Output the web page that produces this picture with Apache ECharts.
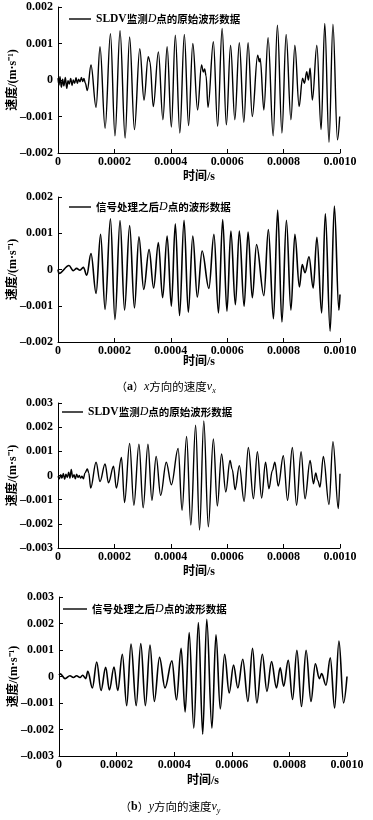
<!DOCTYPE html>
<html><head><meta charset="utf-8">
<script src="https://cdn.jsdelivr.net/npm/echarts@6/dist/echarts.min.js"></script>
<style>html,body{margin:0;padding:0;background:#fff}#c{width:373px;height:820px}</style>
</head><body><div id="c"></div><script>
// time in microseconds, velocity in mm/s (=1e-3 m/s); extrema
const rawX_t = [0,3.5,7,12,16.5,21,26,31,35.5,40,45,50,54,59,64,68.5,73,78,83,87.5,92,97,104,117,135,149,167,186,202,220,238,254,271,290,305,320,326,338,356,372,387,402,416,432,448,463,478,495,509,515,520,525,532,551,566,582,597,612,627,643,659,674,689,708,714,717,730,745,763,778,794,809,826,840,855,867,874,882,888,894,902,918,933,946,961,975,991,999];
const rawX_v = [0.05,-0.14,0.09,-0.2,0.02,-0.16,0.07,-0.23,-0.02,-0.11,0.04,-0.15,0,-0.09,0.06,-0.09,0.02,-0.05,0.07,-0.04,0.04,-0.09,-0.29,0.41,-0.75,0.91,-1.32,1.27,-1.53,1.35,-1.59,1.18,-1.36,0.86,-0.55,0.64,0.5,-0.73,0.77,-1.09,0.91,-1.29,1.23,-1.45,1.25,-1.25,1.0,-0.82,0.41,0.22,0.30,0.12,-0.75,1.05,-1.27,1.41,-1.23,0.95,-1.09,1.02,-1.16,1.02,-1.0,0.68,0.5,0.59,-0.82,1.16,-1.53,1.5,-1.45,1.25,-1.09,0.95,-0.73,0.05,-0.09,0.23,0,0.32,-0.55,0.95,-1.36,1.55,-1.71,1.53,-1.64,-1.0];

const filtX_t = [0,3.5,39,54,66,78,90,102,117,135,151,167,186,202,220,236,254,271,287,304,323,339,356,371,387,402,416,431,447,462,478,494,511,535,553,569,584,599,613,629,643,660,674,689,704,730,746,764,779,794,810,826,840,856,866,876,890,905,918,935,948,965,980,996,1000];
const filtX_v = [0,-0.11,0.11,-0.03,0.03,-0.02,0.06,-0.16,0.44,-0.66,0.97,-1.10,1.40,-1.38,1.35,-1.12,1.21,-1.06,0.90,-0.55,0.55,-0.51,0.74,-0.78,0.92,-1.01,1.26,-1.27,1.36,-1.18,0.92,-0.76,0.51,-0.52,0.97,-1.20,1.38,-1.15,1.06,-0.97,1.06,-1.01,1.03,-0.78,0.69,-0.72,1.10,-1.36,1.64,-1.45,1.36,-1.12,0.97,-0.48,0.14,-0.09,0.35,-0.51,0.89,-1.20,1.54,-1.70,1.75,-1.12,-0.69];

const rawY_t = [0,4.7,9.5,14,19,23.6,28,33,38,42.5,47,52,57,61.5,66,71,75.6,80,85,90,95.7,104,109,116,135,149,167,179,197,207,225,236,254,269,287,302,319,333,348,364,384,402,426,440,456,471,488,502,517,533,551,565,580,595,610,618,628,643,660,675,693,707,722,736,748,760,769,781,799,814,831,846,862,876,894,906,914,921,929,941,961,975,994,1000];
const rawY_v = [-0.03,-0.14,0.03,-0.11,0.08,-0.16,0.05,-0.08,0.14,-0.11,0.25,-0.08,0.03,-0.14,0.05,-0.08,0,-0.11,-0.03,-0.14,0.11,0.27,0.11,-0.52,0.55,-0.25,0.48,-0.30,0.38,-0.52,0.75,-1.12,1.33,-1.23,1.30,-1.34,1.30,-1.03,0.79,-0.82,0.55,-0.38,1.12,-1.44,1.62,-2.05,2.08,-2.26,2.26,-2.12,1.51,-1.26,0.89,-0.68,0.62,0.25,-0.58,0.41,-1.07,1.16,-0.96,0.99,-0.93,0.55,-0.55,0.2,0.55,-0.44,0.82,-1.03,1.16,-1.23,0.99,-0.96,0.62,-0.34,0.11,-0.2,-0.48,0.79,-1.2,1.40,-1.37,0.07];

const filtY_t = [0,4.6,21,38,50,61,73,82,93,100,116,131,146,162,175,191,204,220,235,250,268,284,300,316,331,349,368,392,408,424,438,452,468,484,499,513,531,545,560,575,591,606,621,638,656,672,687,706,722,738,755,768,780,796,811,826,842,858,875,890,904,912,927,942,957,972,988,1000];
const filtY_v = [0.05,0.10,-0.08,0.03,-0.04,0.03,-0.04,0.05,-0.08,0.2,-0.43,0.55,-0.53,0.35,-0.51,0.36,-0.53,0.84,-1.10,1.22,-1.10,1.24,-1.10,1.19,-0.94,0.72,-0.43,0.59,-0.88,1.06,-1.34,1.66,-1.95,2.04,-2.18,2.16,-1.95,1.57,-1.22,0.84,-0.62,0.43,-0.43,0.65,-0.94,1.06,-1.0,0.84,-0.56,0.56,-0.43,0.33,-0.37,0.61,-0.87,0.99,-1.13,0.99,-0.94,0.48,-0.08,0.11,-0.33,0.71,-1.19,1.34,-1.0,0];

const nameRaw = 'SLDV监测D点的原始波形数据';
const nameFilt = '信号处理之后D点的波形数据';
const xAxisName = '时间/s';
const yAxisName = '速度/(m·s⁻¹)';
const yRangeX = [-0.002, 0.002];
const yRangeY = [-0.003, 0.003];

const US = 1e-6, MMS = 1e-3;
function pairs(t, v) { return t.map((ti, i) => [ti * US, v[i] * MMS]); }

const SERIF = '"Liberation Serif","DejaVu Serif","Noto Sans CJK SC",serif';
const CJK = '"Liberation Serif","Noto Sans CJK SC",serif';
const CJKS = '"Noto Sans CJK SC",sans-serif';

const panels = [
  {grid:{left:58, top:7, width:282, height:146}, yr:yRangeX, name:nameRaw, t:rawX_t, v:rawX_v, w:1.4, xGap:18, leg:{left:69, top:13, w:22}},
  {grid:{left:58, top:197, width:282, height:145}, yr:yRangeX, name:nameFilt, t:filtX_t, v:filtX_v, w:1.6, xGap:14, leg:{left:69, top:201, w:22}},
  {grid:{left:58, top:403, width:282, height:145}, yr:yRangeY, name:nameRaw, t:rawY_t, v:rawY_v, w:1.4, xGap:18, leg:{left:62, top:406, w:21}},
  {grid:{left:59, top:597, width:288, height:159}, yr:yRangeY, name:nameFilt, t:filtY_t, v:filtY_v, w:1.6, xGap:19, leg:{left:63, top:603, w:24}}
];

const labelStyle = {color:'#000', fontFamily:SERIF, fontWeight:'bold', fontSize:12};
function yFmt(val) { if (Math.abs(val) < 1e-12) return '0'; const s = val.toFixed(3); return s.replace('-', '–'); }
function xFmt(val) { if (Math.abs(val) < 1e-12) return '0'; return val.toFixed(4); }

const legRich = {
  l:{fontFamily:SERIF, fontWeight:'bold', fontSize:11.5, color:'#000'},
  c:{fontFamily:CJKS, fontWeight:'bold', fontSize:10.5, color:'#000'},
  i:{fontFamily:SERIF, fontStyle:'italic', fontSize:12, color:'#000'}
};
function legFmt(n) {
  const k = n.indexOf('D点');
  const pre = n.slice(0, k), post = n.slice(k + 1);
  if (pre.indexOf('SLDV') === 0) return '{l|SLDV}{c|' + pre.slice(4) + '}{i|D}{c|' + post + '}';
  return '{c|' + pre + '}{i|D}{c|' + post + '}';
}

const capRich = {
  p:{fontFamily:CJKS, fontSize:11, color:'#000', lineHeight:16},
  b:{fontFamily:SERIF, fontWeight:'bold', fontSize:12, color:'#000', lineHeight:16},
  i:{fontFamily:SERIF, fontStyle:'italic', fontSize:12, color:'#000', lineHeight:16},
  c:{fontFamily:CJKS, fontSize:11.5, color:'#000', lineHeight:16},
  s:{fontFamily:SERIF, fontStyle:'italic', fontSize:8, color:'#000', lineHeight:16, verticalAlign:'bottom'}
};

const option = {
  animation:false,
  backgroundColor:'#fff',
  grid: panels.map(p => Object.assign({containLabel:false, outerBoundsMode:'none'}, p.grid)),
  xAxis: panels.map((p, i) => ({
    type:'value', gridIndex:i, min:0, max:0.001, interval:0.0002,
    name:xAxisName, nameLocation:'middle', nameGap:p.xGap, nameMoveOverlap:false,
    nameTextStyle:{color:'#000', fontFamily:CJK, fontWeight:'bold', fontSize:12},
    axisLine:{show:true, onZero:false, lineStyle:{color:'#000', width:1}},
    axisTick:{show:true, inside:true, length:4, lineStyle:{color:'#000'}},
    axisLabel:Object.assign({margin:3, formatter:xFmt, showMinLabel:true, showMaxLabel:true}, labelStyle),
    splitLine:{show:false}
  })),
  yAxis: panels.map((p, i) => ({
    type:'value', gridIndex:i, min:p.yr[0], max:p.yr[1], interval:0.001,
    name:yAxisName, nameLocation:'middle', nameGap:39, nameRotate:90, nameMoveOverlap:false,
    nameTextStyle:{color:'#000', fontFamily:CJK, fontWeight:'bold', fontSize:12},
    axisLine:{show:true, onZero:false, lineStyle:{color:'#000', width:1}},
    axisTick:{show:true, inside:true, length:4, lineStyle:{color:'#000'}},
    axisLabel:Object.assign({margin:5, formatter:yFmt}, labelStyle),
    splitLine:{show:false}
  })),
  legend: panels.map((p, i) => ({
    data:[p.name + (i >= 2 ? ' ' : '')], left:p.leg.left, top:p.leg.top, padding:0,
    icon:'rect', itemWidth:p.leg.w, itemHeight:1.4, itemGap:5, selectedMode:false,
    formatter: n => legFmt(n.trim()),
    textStyle:{rich:legRich, padding:[0,0,0,0]}
  })),
  series: panels.map((p, i) => ({
    type:'line', name:p.name + (i >= 2 ? ' ' : ''), xAxisIndex:i, yAxisIndex:i,
    data:pairs(p.t, p.v), showSymbol:false, symbol:'none',
    smooth:0.36, smoothMonotone:'x',
    lineStyle:{color:'#000', width:p.w}, itemStyle:{color:'#000'},
    emphasis:{disabled:true}
  })),
  graphic: [
    {type:'text', left:116, top:381, style:{text:'{p|（}{b|a}{p|）}{i|x}{c|方向的速度}{i|v}{s|x}', rich:capRich}},
    {type:'text', left:120, top:801, style:{text:'{p|（}{b|b}{p|）}{i|y}{c|方向的速度}{i|v}{s|y}', rich:capRich}}
  ]
};
const chart = echarts.init(document.getElementById('c'), null, {renderer:'canvas'});
chart.setOption(option);
</script></body></html>
